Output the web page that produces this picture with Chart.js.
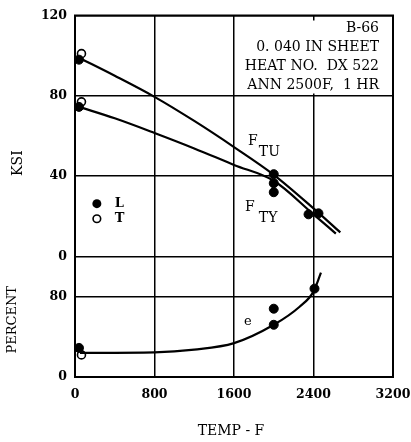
<!DOCTYPE html>
<html>
<head>
<meta charset="utf-8">
<script src="https://cdn.jsdelivr.net/npm/chart.js@4.4.1/dist/chart.umd.min.js"></script>
<style>
  html, body { margin: 0; padding: 0; background: #fff; }
</style>
</head>
<body>
<canvas id="chart" width="411" height="442"></canvas>
<script>
const xTicks = [0, 800, 1600, 2400, 3200];
const ksiTicks = [0, 40, 80, 120];
const pctTicks = [0, 80];

// faired curves
const ftuTemp = [50, 400, 800, 1200, 1600, 2000, 2400, 2670];
const ftuKsi = [98.7, 90, 79.5, 67.5, 54.5, 40.7, 24, 12];
const ftyTemp = [40, 400, 800, 1200, 1600, 2000, 2400, 2625];
const ftyKsi = [74.5, 68.8, 61.5, 53.8, 45.6, 37.7, 21, 11.4];
const elongTemp = [50, 800, 1200, 1600, 2000, 2260, 2400, 2475];
const elongPct = [24, 24.5, 27.2, 33.7, 52, 70, 85, 104];

// test points: L = longitudinal (filled), T = transverse (open)
const lStrTemp = [40, 40, 2000, 2000, 2000, 2350, 2450];
const lStrKsi = [98, 74.5, 41, 36.5, 32, 21, 21.5];
const tStrTemp = [65, 65];
const tStrKsi = [101, 77];
const lElTemp = [40, 2000, 2000, 2410];
const lElPct = [29, 68, 52, 88];
const tElTemp = [65];
const tElPct = [22];

const noteLines = ["B-66", "0. 040 IN SHEET", "HEAT NO.  DX 522", "ANN 2500F,  1 HR"];

const pts = (xs, ys) => xs.map((x, i) => ({ x, y: ys[i] }));

Chart.defaults.font.family = "'DejaVu Serif', serif";
Chart.defaults.color = "#000";

const curve = (data, axis) => ({
  data, yAxisID: axis, showLine: true, borderColor: "#000", borderWidth: 2.2,
  pointRadius: 0, cubicInterpolationMode: "monotone"
});
const filled = (data, axis) => ({
  data, yAxisID: axis, showLine: false, pointRadius: 4.5,
  backgroundColor: "#000", borderColor: "#000", borderWidth: 1
});
const open = (data, axis) => ({
  data, yAxisID: axis, showLine: false, pointRadius: 4,
  backgroundColor: "#fff", borderColor: "#000", borderWidth: 1.6
});

const setTicks = (list) => (scale) => { scale.ticks = list.map(v => ({ value: v })); };

const gridOpts = { color: "#000", lineWidth: 1.5, drawTicks: false };
const borderOpts = { color: "#000", width: 2 };
const tickFont = { size: 12.5, weight: "bold" };

const paper = {
  id: "paper",
  beforeDatasetsDraw(chart) {
    const { ctx, chartArea: a } = chart;
    ctx.save();
    // note panel over the upper right cell
    ctx.fillStyle = "#fff";
    ctx.fillRect(238, a.top + 5, a.right - 240, 73);
    ctx.strokeStyle = "#000";
    ctx.lineWidth = 2;
    ctx.strokeRect(a.left, a.top, a.right - a.left, a.bottom - a.top);
    ctx.fillStyle = "#000";
    ctx.font = "14px 'DejaVu Serif'";
    ctx.textAlign = "right";
    ctx.textBaseline = "middle";
    noteLines.forEach((t, i) => ctx.fillText(t, a.right - 14, a.top + 13 + i * 19));
    ctx.restore();
  },
  afterDatasetsDraw(chart) {
    const { ctx, chartArea: a } = chart;
    const x = chart.scales.x, y = chart.scales.y, yp = chart.scales.yp;
    ctx.save();
    ctx.fillStyle = "#000";
    ctx.textBaseline = "middle";
    ctx.textAlign = "left";
    ctx.font = "14px 'DejaVu Serif'";
    ctx.fillText("F", x.getPixelForValue(1740), y.getPixelForValue(57.5));
    ctx.fillText("TU", x.getPixelForValue(1850), y.getPixelForValue(52));
    ctx.fillText("F", x.getPixelForValue(1710), y.getPixelForValue(24.5));
    ctx.fillText("TY", x.getPixelForValue(1850), y.getPixelForValue(19));
    ctx.font = "13px 'DejaVu Serif'";
    ctx.fillText("e", x.getPixelForValue(1700), yp.getPixelForValue(55));

    // legend
    const lx = x.getPixelForValue(220);
    ctx.beginPath();
    ctx.arc(lx, y.getPixelForValue(26.3), 4.5, 0, Math.PI * 2);
    ctx.fill();
    ctx.beginPath();
    ctx.arc(lx, y.getPixelForValue(18.8), 3.8, 0, Math.PI * 2);
    ctx.lineWidth = 1.6;
    ctx.strokeStyle = "#000";
    ctx.stroke();
    ctx.font = "bold 13px 'DejaVu Serif'";
    ctx.fillText("L", x.getPixelForValue(400), y.getPixelForValue(26.3));
    ctx.fillText("T", x.getPixelForValue(400), y.getPixelForValue(18.8));

    // axis titles
    ctx.textAlign = "center";
    ctx.font = "14px 'DejaVu Serif'";
    ctx.fillText("TEMP - F", (a.left + a.right) / 2 - 3, 431);
    ctx.translate(18, y.getPixelForValue(46.5));
    ctx.rotate(-Math.PI / 2);
    ctx.fillText("KSI", 0, 0);
    ctx.restore();
    ctx.save();
    ctx.fillStyle = "#000";
    ctx.textAlign = "center";
    ctx.textBaseline = "middle";
    ctx.font = "13px 'DejaVu Serif'";
    ctx.translate(13, yp.getPixelForValue(57));
    ctx.rotate(-Math.PI / 2);
    ctx.fillText("PERCENT", 0, 0);
    ctx.restore();
  }
};

new Chart(document.getElementById("chart"), {
  type: "scatter",
  data: {
    datasets: [
      curve(pts(ftuTemp, ftuKsi), "y"),
      curve(pts(ftyTemp, ftyKsi), "y"),
      curve(pts(elongTemp, elongPct), "yp"),
      filled(pts(lStrTemp, lStrKsi), "y"),
      open(pts(tStrTemp, tStrKsi), "y"),
      filled(pts(lElTemp, lElPct), "yp"),
      open(pts(tElTemp, tElPct), "yp")
    ]
  },
  options: {
    responsive: false,
    animation: false,
    layout: { padding: { top: 15, right: 18, left: 0, bottom: 0 } },
    plugins: { legend: { display: false }, tooltip: { enabled: false } },
    scales: {
      x: {
        type: "linear", min: 0, max: 3200,
        afterBuildTicks: setTicks(xTicks),
        afterFit: (s) => { s.height = 65; s.paddingLeft = 0; s.paddingRight = 0; },
        grid: gridOpts, border: borderOpts,
        ticks: { padding: 10, font: tickFont, maxRotation: 0, callback: v => String(v) }
      },
      yp: {
        type: "linear", position: "left", stack: "side", stackWeight: 1, min: 0, max: 120,
        afterBuildTicks: setTicks(pctTicks),
        afterFit: (s) => { s.width = 75; },
        grid: gridOpts, border: borderOpts,
        ticks: { padding: 8, font: tickFont, callback: v => String(v) }
      },
      y: {
        type: "linear", position: "left", stack: "side", stackWeight: 2, min: 0, max: 120,
        afterBuildTicks: setTicks(ksiTicks),
        afterFit: (s) => { s.width = 75; },
        grid: gridOpts, border: borderOpts,
        ticks: { padding: 8, font: tickFont, callback: v => String(v) }
      }
    }
  },
  plugins: [paper]
});
</script>
</body>
</html>
